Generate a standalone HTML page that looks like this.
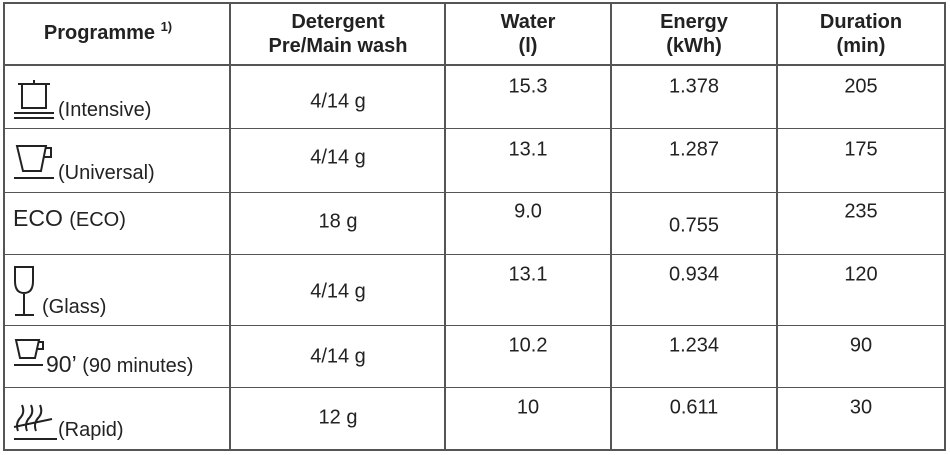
<!DOCTYPE html>
<html><head><meta charset="utf-8"><style>
body{margin:0;width:950px;height:455px;background:#fff;position:relative;overflow:hidden;font-family:"Liberation Sans",sans-serif;color:#222}
.h{position:absolute;height:1px;left:3px;width:943px;background:#555}
.v{position:absolute;width:2px;top:2px;height:449px;background:#555}
.t{position:absolute;font-size:20px;white-space:nowrap;transform:translate(-50%,-50%)}
.b{font-weight:bold;text-align:center;line-height:24px}
.p{position:absolute;font-size:20px;white-space:nowrap}
svg{position:absolute}
</style></head><body>
<div class="h" style="top:2px;height:2px"></div>
<div class="h" style="top:64px;height:2px"></div>
<div class="h" style="top:128px"></div>
<div class="h" style="top:192px"></div>
<div class="h" style="top:254px"></div>
<div class="h" style="top:325px"></div>
<div class="h" style="top:387px"></div>
<div class="h" style="top:449px;height:2px"></div>
<div class="v" style="left:3px"></div>
<div class="v" style="left:229px"></div>
<div class="v" style="left:444px"></div>
<div class="v" style="left:610px"></div>
<div class="v" style="left:776px"></div>
<div class="v" style="left:944px"></div>

<div class="t b" style="left:108px;top:30px">Programme <sup style="font-size:13px">1)</sup></div>
<div class="t b" style="left:338px;top:34px">Detergent<br>Pre/Main wash</div>
<div class="t b" style="left:528px;top:34px">Water<br>(l)</div>
<div class="t b" style="left:694px;top:34px">Energy<br>(kWh)</div>
<div class="t b" style="left:861px;top:34px">Duration<br>(min)</div>

<svg width="60" height="50" style="left:10px;top:74px" fill="none" stroke="#222" stroke-width="2"><path d="M8 10h32M24 6v4M12 10v24h24V10"/><path d="M4 39h40M4 44h40"/></svg>
<svg width="60" height="50" style="left:10px;top:138px" fill="none" stroke="#222" stroke-width="2"><path d="M7 8h29l-5 25H13z M36 10h5v9h-7"/><path d="M4 40h40"/></svg>
<svg width="40" height="60" style="left:10px;top:262px" fill="none" stroke="#222" stroke-width="2"><path d="M5 5h18v14q0 12-9 12q-9 0-9-12z M14 31v22M5 53h19"/></svg>
<svg width="40" height="40" style="left:10px;top:334px" fill="none" stroke="#222" stroke-width="2"><path d="M6 6h23l-4 18H10z M29 8h4v7h-6M4 31h29"/></svg>
<svg width="50" height="50" style="left:10px;top:397px" fill="none" stroke="#222" stroke-width="2"><path d="M8 34q-3-8 3-14q4-5 1-12M17 34q-3-8 3-14q4-5 1-12M26 34q-3-8 3-14q4-5 1-12M4 30l38-8M4 42h43"/></svg>

<div class="p" style="left:58px;top:99px">(Intensive)</div>
<div class="p" style="left:58px;top:162px">(Universal)</div>
<div class="p" style="left:13px;top:205px;font-size:23px">ECO <span style="font-size:20px">(ECO)</span></div>
<div class="p" style="left:42px;top:296px">(Glass)</div>
<div class="p" style="left:46px;top:351px"><span style="font-size:23px">90’</span> (90 minutes)</div>
<div class="p" style="left:58px;top:419px">(Rapid)</div>

<div class="t" style="left:338px;top:102px">4/14 g</div>
<div class="t" style="left:338px;top:158px">4/14 g</div>
<div class="t" style="left:338px;top:222px">18 g</div>
<div class="t" style="left:338px;top:292px">4/14 g</div>
<div class="t" style="left:338px;top:357px">4/14 g</div>
<div class="t" style="left:338px;top:418px">12 g</div>

<div class="t" style="left:528px;top:87px">15.3</div>
<div class="t" style="left:528px;top:150px">13.1</div>
<div class="t" style="left:528px;top:212px">9.0</div>
<div class="t" style="left:528px;top:275px">13.1</div>
<div class="t" style="left:528px;top:346px">10.2</div>
<div class="t" style="left:528px;top:408px">10</div>

<div class="t" style="left:694px;top:87px">1.378</div>
<div class="t" style="left:694px;top:150px">1.287</div>
<div class="t" style="left:694px;top:226px">0.755</div>
<div class="t" style="left:694px;top:275px">0.934</div>
<div class="t" style="left:694px;top:346px">1.234</div>
<div class="t" style="left:694px;top:408px">0.611</div>

<div class="t" style="left:861px;top:87px">205</div>
<div class="t" style="left:861px;top:150px">175</div>
<div class="t" style="left:861px;top:212px">235</div>
<div class="t" style="left:861px;top:275px">120</div>
<div class="t" style="left:861px;top:346px">90</div>
<div class="t" style="left:861px;top:408px">30</div>
</body></html>
